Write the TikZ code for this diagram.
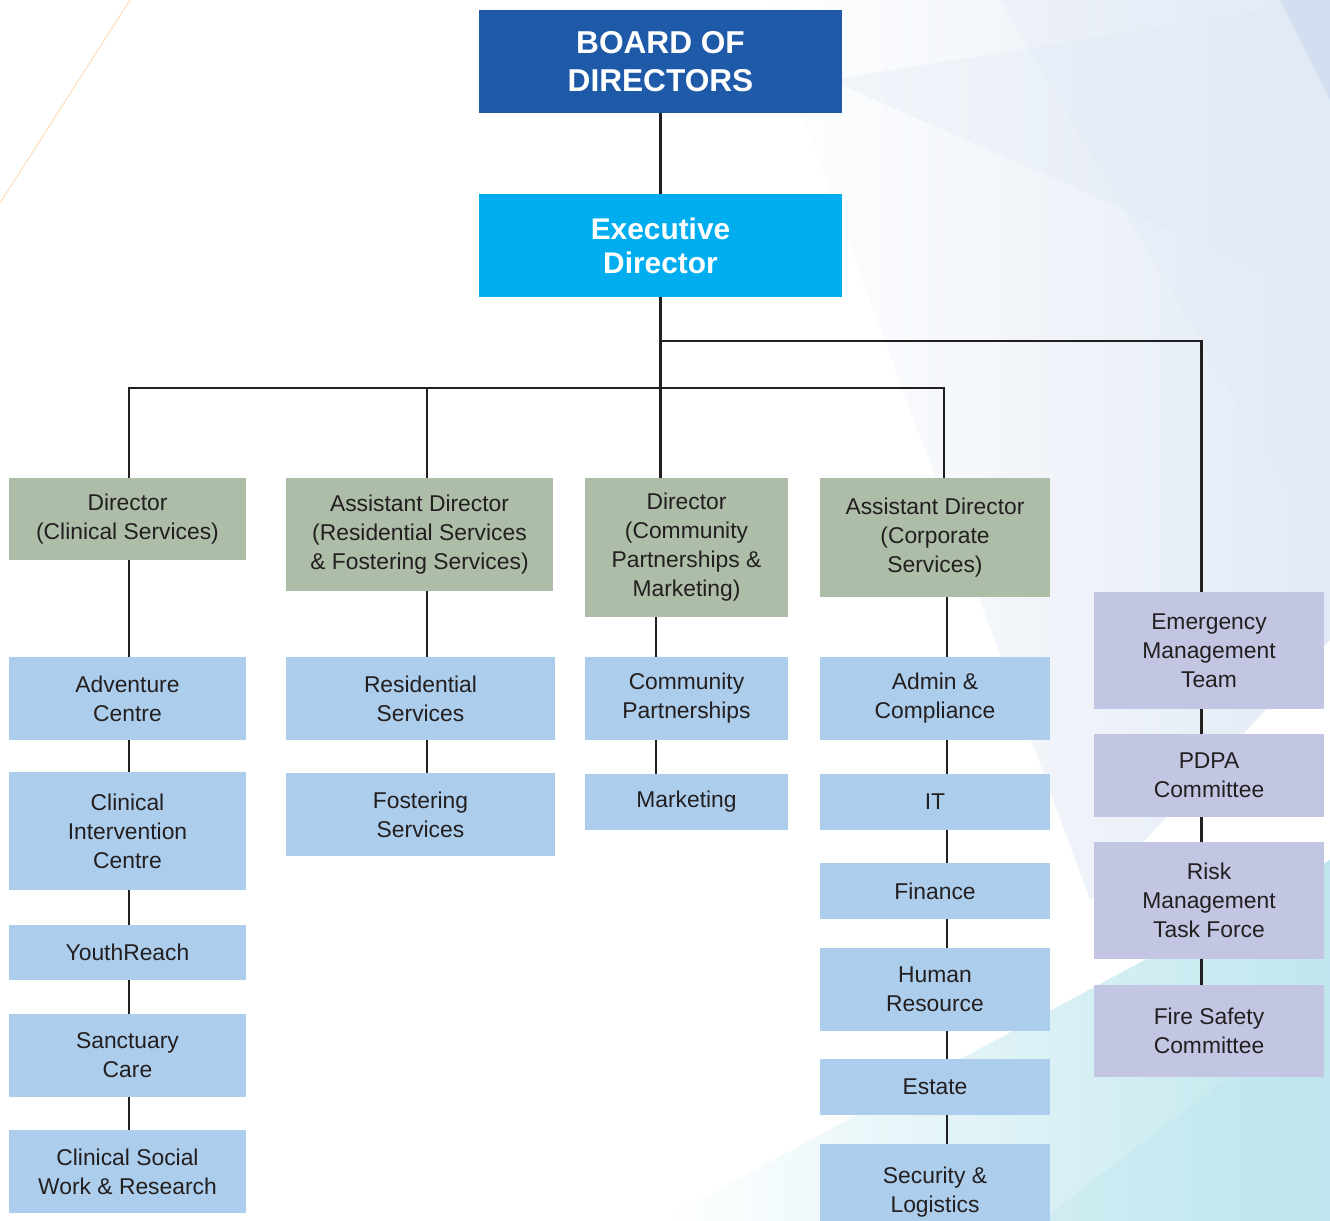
\documentclass[tikz,border=0pt]{standalone}
\usepackage{fontspec}
\setmainfont{Liberation Sans}

\definecolor{ink}{HTML}{231F20}
\definecolor{boardblue}{HTML}{1F5AA8}
\definecolor{execblue}{HTML}{00AEEF}
\definecolor{sage}{HTML}{ADBDA8}
\definecolor{paleblue}{HTML}{ACCDEB}
\definecolor{lilac}{HTML}{C3C6E2}
\definecolor{haze}{HTML}{E2EAF5}
\definecolor{steel}{HTML}{C8D8EE}
\definecolor{seafoam}{HTML}{BFE6EE}

\tikzset{
  unit/.style={inner sep=0pt, align=center, text=ink, font=\fontsize{13}{16.5}\selectfont},
  chief/.style={unit, text=white, font=\bfseries\fontsize{18}{21.5}\selectfont},
  head/.style={unit, fill=sage},
  dept/.style={unit, fill=paleblue},
  cttee/.style={unit, fill=lilac},
  wh/.style 2 args={minimum width=#1*0.02cm, minimum height=#2*0.02cm},
  link/.style={line width=1.7pt, draw=ink},
}

\begin{document}
\begin{tikzpicture}[x=0.02cm,y=-0.02cm]

  \clip (0,0) rectangle (1330,1221);
  \fill[white] (0,0) rectangle (1330,1221);

  % soft facets behind the chart
  \shade[left color=white, right color=haze] (760,0) -- (1330,0) -- (1330,640) -- (1090,900) -- cycle;
  \fill[haze,opacity=0.35] (830,80) -- (1330,0) -- (1330,300) -- cycle;
  \fill[haze,opacity=0.3] (1000,0) -- (1330,0) -- (1330,560) -- cycle;
  \fill[steel,opacity=0.6] (1280,0) -- (1330,0) -- (1330,100) -- cycle;
  \shade[left color=white, right color=seafoam] (660,1221) -- (1330,860) -- (1330,1221) -- cycle;
  \fill[seafoam,opacity=0.4] (1040,1221) -- (1330,1000) -- (1330,1221) -- cycle;
  \draw[orange!35,line width=0.4pt] (130,0) -- (0,203);

  % top of the chart
  \node[chief, fill=boardblue, wh={363}{103}] (board) at (660.5,61.5) {BOARD OF\\DIRECTORS};
  \node[chief, fill=execblue, font=\bfseries\fontsize{17}{19.5}\selectfont, wh={363}{103}] (exec) at (660.5,245.5) {Executive\\Director};

  % directors
  \node[head, wh={237}{82}] (dclin) at (127.5,519) {Director\\(Clinical Services)};
  \node[head, wh={267}{113}] (ares) at (419.5,534.5) {Assistant Director\\(Residential Services\\\& Fostering Services)};
  \node[head, wh={203}{139}] (dcom) at (686.5,547.5) {Director\\(Community\\Partnerships \&\\Marketing)};
  \node[head, wh={230}{119}] (acorp) at (935,537.5) {Assistant Director\\(Corporate\\Services)};

  % clinical services
  \node[dept, wh={237}{83}] (adv) at (127.5,698.5) {Adventure\\Centre};
  \node[dept, wh={237}{118}] (cic) at (127.5,831) {Clinical\\Intervention\\Centre};
  \node[dept, wh={237}{55}] (yr) at (127.5,952.5) {YouthReach};
  \node[dept, wh={237}{83}] (sanc) at (127.5,1055.5) {Sanctuary\\Care};
  \node[dept, wh={237}{83}] (csw) at (127.5,1171.5) {Clinical Social\\Work \& Research};

  % residential and fostering
  \node[dept, wh={269}{83}] (ress) at (420.5,698.5) {Residential\\Services};
  \node[dept, wh={269}{83}] (fost) at (420.5,814.5) {Fostering\\Services};

  % community partnerships
  \node[dept, wh={203}{83}] (cpart) at (686.5,698.5) {Community\\Partnerships};
  \node[dept, wh={203}{56}] (mkt) at (686.5,802) {Marketing};

  % corporate services
  \node[dept, wh={230}{83}] (admin) at (935,698.5) {Admin \&\\Compliance};
  \node[dept, wh={230}{56}] (it) at (935,802) {IT};
  \node[dept, wh={230}{56}] (fin) at (935,891) {Finance};
  \node[dept, wh={230}{83}] (hr) at (935,989.5) {Human\\Resource};
  \node[dept, wh={230}{56}] (est) at (935,1087) {Estate};
  \node[dept, wh={230}{96}] (sec) at (935,1192) {Security \&\\Logistics};

  % committees
  \node[cttee, wh={230}{117}] (emt) at (1209,650.5) {Emergency\\Management\\Team};
  \node[cttee, wh={230}{83}] (pdpa) at (1209,775.5) {PDPA\\Committee};
  \node[cttee, wh={230}{117}] (risk) at (1209,900.5) {Risk\\Management\\Task Force};
  \node[cttee, wh={230}{92}] (fire) at (1209,1031) {Fire Safety\\Committee};

  % spines
  \coordinate (s1) at (129,388);
  \coordinate (s2) at (427,388);
  \coordinate (s3) at (656,388);
  \coordinate (s4) at (944,388);
  \coordinate (s4b) at (947,0);
  \coordinate (s5) at (1201,341);

  \draw[link] (board) -- (exec);
  \draw[link] (exec.south) -- (dcom.north -| exec.south);
  \draw[link] (dclin.north -| s1) -- (s1) -- (s4) -- (acorp.north -| s4);
  \draw[link] (s2) -- (ares.north -| s2);
  \draw[link] (exec.south |- s5) -- (s5) -- (emt.north -| s5);

  \foreach \a/\b in {dclin/adv,adv/cic,cic/yr,yr/sanc,sanc/csw}
    \draw[link] (\a.south -| s1) -- (\b.north -| s1);
  \foreach \a/\b in {ares/ress,ress/fost}
    \draw[link] (\a.south -| s2) -- (\b.north -| s2);
  \foreach \a/\b in {dcom/cpart,cpart/mkt}
    \draw[link] (\a.south -| s3) -- (\b.north -| s3);
  \foreach \a/\b in {acorp/admin,admin/it,it/fin,fin/hr,hr/est,est/sec}
    \draw[link] (\a.south -| s4b) -- (\b.north -| s4b);
  \foreach \a/\b in {emt/pdpa,pdpa/risk,risk/fire}
    \draw[link] (\a.south -| s5) -- (\b.north -| s5);

\end{tikzpicture}
\end{document}
